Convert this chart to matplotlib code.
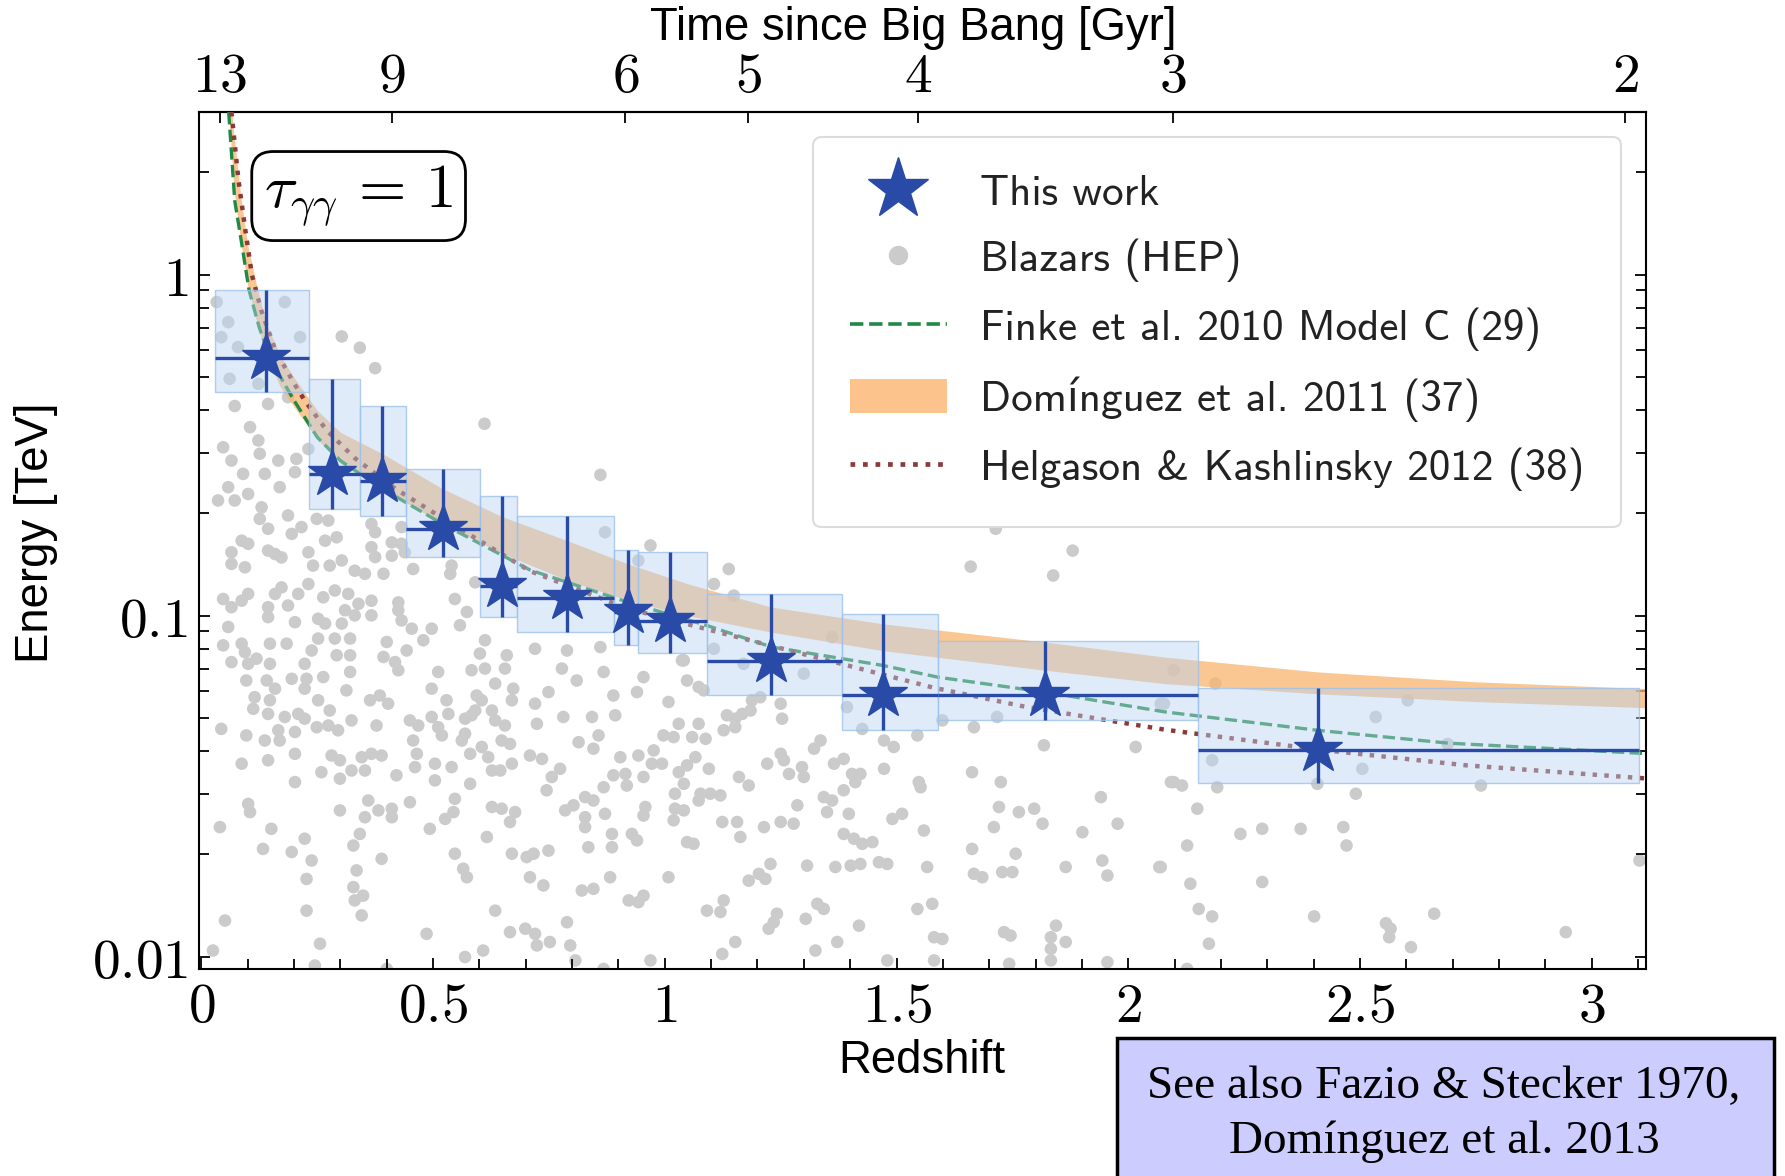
import numpy as np
import matplotlib
matplotlib.use("Agg")
import matplotlib.pyplot as plt
from matplotlib.patches import Rectangle, Patch
from matplotlib.lines import Line2D
from matplotlib.ticker import FixedLocator, FixedFormatter, LogLocator, MultipleLocator, NullFormatter

plt.rcParams['mathtext.fontset'] = 'cm'

# ---------------- gamma-ray horizon measurements (this work) ----------------
star_z = [0.140, 0.281, 0.390, 0.522, 0.649, 0.790, 0.920, 1.012, 1.230, 1.470, 1.821, 2.410]
star_e = [0.571, 0.261, 0.248, 0.180, 0.122, 0.113, 0.1027, 0.0966, 0.0736, 0.0584, 0.0584, 0.0405]
star_e_hi = [0.904, 0.495, 0.411, 0.270, 0.224, 0.1955, 0.1554, 0.1536, 0.116, 0.1014, 0.0842, 0.0615]
star_e_lo = [0.453, 0.206, 0.1955, 0.149, 0.099, 0.0895, 0.0818, 0.0777, 0.0584, 0.0463, 0.0493, 0.0323]
bin_z_lo = [0.030, 0.232, 0.342, 0.442, 0.601, 0.682, 0.891, 0.943, 1.091, 1.383, 1.590, 2.150]
bin_z_hi = [0.232, 0.342, 0.442, 0.601, 0.682, 0.891, 0.943, 1.091, 1.383, 1.590, 2.150, 3.102]

# ---------------- EBL model horizons (tau = 1) ----------------
finke_z = [0.059, 0.072, 0.086, 0.103, 0.125, 0.148, 0.175, 0.200, 0.250, 0.300, 0.390,
           0.520, 0.710, 0.920, 1.090, 1.230, 1.470, 1.590, 1.820, 2.080, 2.410, 2.690, 3.120]
finke_e = [3.0, 1.65, 1.26, 0.90, 0.70, 0.571, 0.49, 0.428, 0.334, 0.285, 0.236,
           0.186, 0.136, 0.1096, 0.0937, 0.081, 0.0715, 0.066, 0.0597, 0.0522, 0.0461, 0.0423, 0.0394]

helg_z = [0.065, 0.080, 0.095, 0.109, 0.130, 0.160, 0.200, 0.223, 0.270, 0.331, 0.418,
          0.540, 0.710, 0.920, 1.100, 1.380, 1.580, 1.780, 2.080, 2.410, 2.730, 3.120]
helg_e = [3.0, 1.9, 1.35, 1.0, 0.78, 0.60, 0.48, 0.428, 0.35, 0.29, 0.236,
          0.186, 0.135, 0.105, 0.0906, 0.0723, 0.0615, 0.054, 0.0463, 0.0405, 0.0364, 0.0333]

dom_z = [0.058, 0.070, 0.085, 0.100, 0.120, 0.140, 0.170, 0.200, 0.250, 0.300, 0.390, 0.520,
         0.650, 0.790, 0.920, 1.050, 1.230, 1.470, 1.820, 2.080, 2.410, 2.750, 3.120]
dom_e_lo = [3.2, 1.8, 1.25, 0.93, 0.72, 0.58, 0.47, 0.41, 0.33, 0.28, 0.236, 0.186,
            0.152, 0.127, 0.111, 0.100, 0.0895, 0.079, 0.0692, 0.0632, 0.059, 0.056, 0.0537]
dom_e_hi = [4.0, 2.6, 1.7, 1.22, 0.92, 0.72, 0.58, 0.50, 0.40, 0.345, 0.299, 0.236,
            0.195, 0.166, 0.142, 0.124, 0.106, 0.0947, 0.0837, 0.0756, 0.0684, 0.064, 0.0611]

# ---------------- highest-energy photons of blazars (z, log10 E/TeV) ----------------
blazar_z = [
    0.065, 0.144, 0.187, 0.310, 0.331, 0.367, 0.425, 0.432, 0.454, 0.497, 0.573, 0.558, 0.144, 0.202, 0.252,
    0.267, 0.303, 0.058, 0.047, 0.087, 0.065, 0.101, 0.094, 0.119, 0.148, 0.148, 0.184, 0.238, 0.223, 0.252,
    0.288, 0.321, 0.292, 0.321, 0.400, 0.393, 0.418, 0.425, 0.443, 0.479, 0.097, 0.141, 0.159, 0.115, 0.112,
    0.148, 0.144, 0.195, 0.227, 0.223, 0.263, 0.252, 0.313, 0.321, 0.364, 0.385, 0.403, 0.497, 0.511, 0.583,
    0.612, 0.634, 0.655, 0.659, 0.601, 0.612, 0.720, 0.778, 0.789, 0.810, 0.861, 0.868, 0.043, 0.097, 0.137,
    0.166, 0.169, 0.180, 0.209, 0.223, 0.202, 0.249, 0.277, 0.274, 0.295, 0.324, 0.378, 0.450, 0.468, 0.457,
    0.497, 0.511, 0.519, 0.529, 0.533, 0.569, 0.583, 0.562, 0.569, 0.594, 0.591, 0.605, 0.627, 0.634, 0.655,
    0.673, 0.670, 0.720, 0.749, 0.724, 0.781, 0.843, 0.893, 0.889, 0.940, 0.954, 1.008, 1.030, 1.037, 0.087,
    0.144, 0.202, 0.202, 0.259, 0.281, 0.299, 0.299, 0.324, 0.353, 0.346, 0.367, 0.389, 0.421, 0.465, 0.461,
    0.504, 0.504, 0.540, 0.580, 0.580, 0.605, 0.619, 0.627, 0.645, 0.648, 0.666, 0.670, 0.709, 0.735, 0.745,
    0.756, 0.774, 0.814, 0.846, 0.857, 0.904, 0.915, 0.918, 0.943, 0.976, 0.972, 0.994, 0.997, 1.019, 1.030,
    0.954, 0.889, 0.868, 0.101, 0.105, 0.040, 0.151, 0.133, 0.195, 0.223, 0.238, 0.227, 0.227, 0.299, 0.353,
    0.360, 0.382, 0.411, 0.411, 0.450, 0.328, 0.342, 0.389, 0.335, 0.328, 0.349, 0.331, 0.346, 0.256, 0.245,
    0.051, 0.025, 0.493, 0.526, 0.544, 0.547, 0.547, 0.565, 0.573, 0.616, 0.627, 0.648, 0.677, 0.666, 0.670,
    0.702, 0.717, 0.749, 0.709, 0.738, 0.785, 0.803, 0.828, 0.846, 0.828, 0.828, 0.871, 0.886, 0.886, 0.929,
    0.940, 0.958, 0.954, 1.022, 1.022, 1.019, 1.048, 0.835, 0.882, 0.821, 0.846, 0.922, 0.943, 0.954, 1.008,
    0.634, 0.666, 0.699, 0.720, 0.724, 0.752, 0.789, 0.796, 0.807, 0.969, 0.868, 0.608, 0.569, 0.486, 0.400,
    0.033, 0.058, 0.180, 0.213, 0.043, 0.079, 0.061, 0.123, 0.187, 0.303, 0.342, 0.375, 0.611, 0.861, 0.072,
    0.144, 0.105, 0.047, 0.123, 0.126, 0.065, 0.090, 0.058, 0.036, 0.072, 0.101, 0.137, 0.166, 0.169, 0.205,
    0.202, 0.231, 0.130, 0.126, 0.187, 0.216, 0.249, 0.274, 0.144, 0.087, 0.101, 0.065, 0.065, 0.094, 0.144,
    0.159, 0.195, 0.173, 0.231, 0.267, 0.292, 0.241, 0.277, 0.303, 0.367, 0.375, 0.367, 0.375, 0.411, 0.432,
    0.432, 0.439, 0.411, 0.331, 0.353, 0.393, 0.457, 0.540, 0.537, 0.591, 0.547, 0.173, 0.159, 0.209, 0.231,
    0.263, 0.288, 0.317, 0.047, 0.087, 0.101, 0.339, 0.367, 0.425, 0.871, 0.969, 0.943,
    1.041, 1.048, 1.073, 1.084, 1.073, 1.059, 1.088, 1.066, 1.048, 1.095, 1.041, 1.077, 1.073, 1.098, 1.120,
    1.041, 1.062, 1.124, 1.156, 1.163, 1.134, 1.152, 1.167, 1.127, 1.152, 1.185, 1.206, 1.188, 1.250, 1.253,
    1.221, 1.250, 1.257, 1.160, 1.181, 1.268, 1.296, 1.300, 1.286, 1.214, 1.250, 1.278, 1.322, 1.336, 1.365,
    1.386, 1.404, 1.422, 1.411, 1.386, 1.343, 1.361, 1.350, 1.397, 1.386, 1.408, 1.426, 1.448, 1.307, 1.368,
    1.401, 1.422, 1.462, 1.480, 1.473, 1.494, 1.473, 1.545, 1.548, 1.552, 1.491, 1.512, 1.559, 1.566, 1.667,
    1.663, 1.725, 1.721, 1.764, 1.797, 1.815, 1.710, 1.663, 1.757, 1.818, 1.901, 1.941, 1.977, 2.016, 2.092,
    1.865, 1.944, 1.955, 2.067, 1.667, 1.685, 1.728, 1.750, 1.181, 1.203, 1.228, 1.217, 1.127, 1.091, 1.120,
    1.242, 1.224, 1.235, 1.304, 1.329, 1.343, 1.419, 1.545, 1.577, 1.124, 1.152, 1.325, 1.372, 1.480, 1.581,
    1.599, 1.581, 1.732, 1.746, 1.844, 1.833, 1.865, 1.833, 1.833, 1.743, 1.955, 1.106, 1.170, 1.300, 1.361,
    1.717, 1.599, 2.070, 1.426, 1.393,
    2.098, 2.188, 2.077, 2.181, 2.192, 2.098, 2.116, 2.149, 2.127, 2.242, 2.289, 2.372, 2.464, 2.471, 2.491,
    2.408, 2.505, 2.534, 2.603, 2.689, 2.761, 2.070, 2.134, 2.152, 2.181, 2.174, 2.289, 2.401, 2.556, 2.566,
    2.563, 2.610, 2.660, 2.944, 3.103, 2.127,
    1.714, 1.880, 1.660, 1.838, 1.138, 1.106, 1.149,
]
blazar_log_e = [
    -0.975, -0.975, -0.970, -0.984, -0.999, -0.999, -0.984, -1.014, -1.038, -1.038, -0.989, -1.028, -1.004, -1.019, -1.009,
    -1.023, -1.023, -1.033, -1.087, -1.082, -1.136, -1.141, -1.107, -1.126, -1.082, -1.141, -1.082, -1.102, -1.141, -1.067,
    -1.067, -1.067, -1.116, -1.116, -1.077, -1.121, -1.136, -1.160, -1.102, -1.072, -1.190, -1.190, -1.214, -1.239, -1.273,
    -1.248, -1.288, -1.185, -1.185, -1.214, -1.180, -1.248, -1.219, -1.165, -1.248, -1.234, -1.258, -1.214, -1.165, -1.160,
    -1.155, -1.199, -1.155, -1.116, -1.111, -1.072, -1.097, -1.155, -1.102, -1.190, -1.092, -1.165, -1.332, -1.351, -1.366,
    -1.336, -1.366, -1.297, -1.288, -1.302, -1.341, -1.327, -1.278, -1.322, -1.336, -1.307, -1.322, -1.307, -1.322, -1.366,
    -1.297, -1.327, -1.351, -1.248, -1.288, -1.302, -1.292, -1.366, -1.346, -1.234, -1.278, -1.248, -1.278, -1.307, -1.322,
    -1.214, -1.248, -1.258, -1.224, -1.317, -1.297, -1.297, -1.292, -1.234, -1.224, -1.180, -1.253, -1.317, -1.131, -1.434,
    -1.424, -1.405, -1.488, -1.459, -1.410, -1.424, -1.478, -1.454, -1.454, -1.415, -1.405, -1.410, -1.468, -1.405, -1.444,
    -1.434, -1.483, -1.444, -1.405, -1.493, -1.385, -1.415, -1.454, -1.454, -1.366, -1.376, -1.434, -1.410, -1.420, -1.512,
    -1.473, -1.449, -1.371, -1.390, -1.351, -1.415, -1.464, -1.498, -1.410, -1.395, -1.434, -1.434, -1.351, -1.356, -1.459,
    -1.473, -1.468, -1.503, -1.552, -1.576, -1.620, -1.625, -1.684, -1.693, -1.654, -1.718, -1.772, -1.865, -1.571, -1.591,
    -1.542, -1.571, -1.566, -1.591, -1.547, -1.674, -1.640, -1.713, -1.747, -1.796, -1.821, -1.835, -1.879, -1.962, -2.026,
    -1.894, -1.982, -1.625, -1.596, -1.576, -1.537, -1.698, -1.742, -1.767, -1.649, -1.561, -1.566, -1.576, -1.605, -1.698,
    -1.708, -1.698, -1.689, -1.767, -1.791, -1.571, -1.556, -1.532, -1.542, -1.591, -1.620, -1.581, -1.640, -1.679, -1.640,
    -1.659, -1.561, -1.586, -1.522, -1.566, -1.600, -1.664, -1.679, -1.767, -1.806, -1.801, -1.835, -1.840, -1.821, -1.767,
    -1.865, -1.928, -1.918, -1.933, -1.967, -1.957, -1.899, -1.967, -2.011, -2.011, -2.036, -1.982, -2.001, -1.933, -2.036,
    -0.080, -0.139, -0.080, -0.183, -0.183, -0.212, -0.305, -0.320, -0.359, -0.181, -0.214, -0.274, -0.437, -0.587, -0.385,
    -0.379, -0.447, -0.506, -0.486, -0.525, -0.545, -0.584, -0.623, -0.662, -0.662, -0.643, -0.584, -0.545, -0.623, -0.540,
    -0.579, -0.511, -0.682, -0.716, -0.706, -0.740, -0.716, -0.721, -0.745, -0.780, -0.789, -0.814, -0.848, -0.858, -0.809,
    -0.819, -0.760, -0.829, -0.814, -0.780, -0.770, -0.853, -0.853, -0.838, -0.731, -0.755, -0.799, -0.828, -0.785, -0.740,
    -0.789, -0.814, -0.824, -0.868, -0.877, -0.877, -0.863, -0.853, -0.877, -0.902, -0.951, -0.917, -0.936, -0.936, -0.907,
    -0.946, -0.926, -0.936, -0.951, -0.956, -0.936, -0.965, -0.956, -0.961, -0.755, -0.794, -0.838,
    -1.131, -1.190, -1.209, -1.219, -1.317, -1.356, -1.361, -1.415, -1.439, -1.449, -1.493, -1.522, -1.542, -1.522, -1.527,
    -1.571, -1.669, -1.605, -1.605, -1.649, -1.292, -1.302, -1.288, -1.336, -1.327, -1.278, -1.239, -1.248, -1.258, -1.302,
    -1.434, -1.405, -1.424, -1.473, -1.498, -1.464, -1.444, -1.473, -1.556, -1.620, -1.605, -1.610, -1.390, -1.366, -1.434,
    -1.420, -1.464, -1.464, -1.488, -1.512, -1.532, -1.542, -1.576, -1.581, -1.640, -1.654, -1.669, -1.664, -1.733, -1.737,
    -1.733, -1.728, -1.723, -1.728, -1.366, -1.385, -1.449, -1.351, -1.488, -1.503, -1.596, -1.581, -1.630, -1.737, -1.327,
    -1.459, -1.488, -1.561, -1.576, -1.566, -1.610, -1.620, -1.684, -1.698, -1.380, -1.635, -1.532, -1.610, -1.385, -1.488,
    -1.737, -1.718, -1.762, -1.737, -1.757, -1.767, -1.752, -1.752, -1.777, -1.757, -1.728, -1.772, -1.835, -1.865, -1.869,
    -1.874, -1.918, -1.899, -1.889, -1.845, -1.860, -1.909, -1.860, -1.845, -1.992, -1.957, -1.982, -1.957, -2.011, -1.943,
    -1.948, -2.011, -1.928, -1.938, -1.909, -1.943, -1.957, -1.977, -2.011, -2.021, -2.016, -1.097, -1.141, -1.170, -1.063,
    -1.297, -1.307, -1.258, -1.332, -1.268,
    -1.160, -1.199, -1.258, -1.424, -1.503, -1.488, -1.498, -1.566, -1.674, -1.640, -1.625, -1.625, -1.620, -1.674, -1.522,
    -1.493, -1.449, -1.297, -1.248, -1.376, -1.498, -1.737, -1.786, -1.860, -1.882, -1.962, -1.781, -1.882, -1.902, -1.918,
    -1.943, -1.972, -1.874, -1.928, -1.718, -2.036,
    -0.745, -0.809, -0.856, -0.882, -0.863, -0.907, -0.941,
]

# ---------------- axis ticks ----------------
age_labels = ['13', '9', '6', '5', '4', '3', '2']
age_tick_z = [0.040, 0.411, 0.915, 1.180, 1.546, 2.097, 3.072]
z_ticks = [0, 0.5, 1, 1.5, 2, 2.5, 3]
z_tick_labels = ['0', '0.5', '1', '1.5', '2', '2.5', '3']
e_ticks = [0.01, 0.1, 1]
e_tick_labels = ['0.01', '0.1', '1']

# ---------------- colours ----------------
c_star = '#2a4aa8'
c_dot = '#cbcbcb'
c_finke = '#1f8a45'
c_dom = '#f9b46e'
c_helg = '#8b3a3a'
c_box_face = (0.725, 0.831, 0.949, 0.45)
c_box_edge = (0.62, 0.76, 0.92, 0.8)

fig = plt.figure(figsize=(17.85, 11.76), dpi=100)
ax = fig.add_axes([0.1115, 0.176, 0.8106, 0.7287])
ax.set_yscale('log')
ax.set_xlim(-0.005, 3.117)
ax.set_ylim(0.0092, 3.0)

ax.scatter(blazar_z, 10 ** np.asarray(blazar_log_e), s=82, color=c_dot,
           edgecolors='none', zorder=1)

ax.fill_between(dom_z, dom_e_lo, dom_e_hi, color=c_dom, alpha=0.75, lw=0, zorder=2)
ax.plot(finke_z, finke_e, ls='--', color=c_finke, lw=2.4, zorder=3)
ax.plot(helg_z, helg_e, ls=':', color=c_helg, lw=3.2, zorder=3)

for zl, zh, el, eh in zip(bin_z_lo, bin_z_hi, star_e_lo, star_e_hi):
    ax.add_patch(Rectangle((zl, el), zh - zl, eh - el, facecolor=c_box_face,
                           edgecolor=c_box_edge, lw=1.0, zorder=4))

sz = np.asarray(star_z)
se = np.asarray(star_e)
xerr = [sz - np.asarray(bin_z_lo), np.asarray(bin_z_hi) - sz]
yerr = [se - np.asarray(star_e_lo), np.asarray(star_e_hi) - se]
ax.errorbar(sz, se, xerr=xerr, yerr=yerr, fmt='none', ecolor=c_star,
            elinewidth=2.4, capsize=0, zorder=5)
ax.plot(sz, se, ls='none', marker='*', ms=36, color=c_star, zorder=6)

# ticks
tick_font = 40
ax.xaxis.set_major_locator(FixedLocator(z_ticks))
ax.xaxis.set_major_formatter(FixedFormatter(['$%s$' % t for t in z_tick_labels]))
ax.xaxis.set_minor_locator(MultipleLocator(0.1))
ax.yaxis.set_major_locator(FixedLocator(e_ticks))
ax.yaxis.set_major_formatter(FixedFormatter(['$%s$' % t for t in e_tick_labels]))
ax.yaxis.set_minor_locator(LogLocator(base=10, subs=np.arange(2, 10)))
ax.yaxis.set_minor_formatter(NullFormatter())
ax.tick_params(which='both', direction='in', top=False, right=True,
               labelsize=tick_font, pad=8, width=1.3)
ax.tick_params(which='major', length=8)
ax.tick_params(which='minor', length=7)
for sp in ax.spines.values():
    sp.set_linewidth(1.5)

secax = ax.secondary_xaxis('top')
secax.set_xticks(age_tick_z)
secax.set_xticklabels(['$%s$' % t for t in age_labels])
secax.tick_params(direction='in', length=8, width=1.3, labelsize=tick_font, pad=6)
secax.spines['top'].set_linewidth(1.5)

# annotation box
ax.text(0.1103, 0.902, r'$\tau_{\gamma\gamma}\,=\,1$', transform=ax.transAxes,
        ha='center', va='center', fontsize=44, zorder=8,
        bbox=dict(boxstyle='round,pad=0.2,rounding_size=0.35', fc='white', ec='black', lw=2))

# legend
handles = [
    Line2D([], [], ls='none', marker='*', ms=46, color=c_star),
    Line2D([], [], ls='none', marker='o', ms=13, color=c_dot),
    Line2D([], [], ls='--', color=c_finke, lw=2.6),
    Patch(facecolor='#fcc48c', edgecolor='none'),
    Line2D([], [], ls=':', color=c_helg, lw=3.4),
]
labels = ['This work', 'Blazars (HEP)', 'Finke et al. 2010 Model C (29)',
          'Domínguez et al. 2011 (37)', 'Helgason & Kashlinsky 2012 (38)']
leg = ax.legend(handles, labels, loc='upper right', bbox_to_anchor=(0.983, 0.971),
                borderaxespad=0, prop={'family': ['cmss10', 'DejaVu Sans'], 'size': 31},
                handlelength=2.25, handletextpad=0.78, labelspacing=0.59, borderpad=0.85,
                handleheight=0.82, frameon=True, fancybox=True, framealpha=1.0,
                edgecolor='#dcdcdc')
leg.get_frame().set_linewidth(1.5)
leg.set_zorder(9)
for t in leg.get_texts():
    t.set_color('#222222')

# axis titles
lab_font = dict(family='Liberation Sans', fontsize=32.8, color='black')
fig.text(36 / 1785, 1 - 533 / 1176, 'Energy [TeV]', rotation=90, ha='center', va='center', **lab_font)
fig.text(922 / 1785, 1 - 1061 / 1176, 'Redshift', ha='center', va='center', **lab_font)
fig.text(913 / 1785, 1 - 28 / 1176, 'Time since Big Bang [Gyr]', ha='center', va='center', **lab_font)

# reference note
fig.add_artist(Rectangle((1117 / 1785, -0.02), (1774 - 1117) / 1785, 0.02 + (1176 - 1038) / 1176,
                         transform=fig.transFigure, facecolor='#ccccff', edgecolor='black',
                         lw=2.5, zorder=10))
note_font = dict(family='Liberation Serif', fontsize=34, color='black', ha='center', va='center', zorder=11)
fig.text(0.809, 0.0757, 'See also Fazio & Stecker 1970,', **note_font)
fig.text(0.809, 0.0289, 'Domínguez et al. 2013', **note_font)

fig.savefig('out.png', dpi=100)
